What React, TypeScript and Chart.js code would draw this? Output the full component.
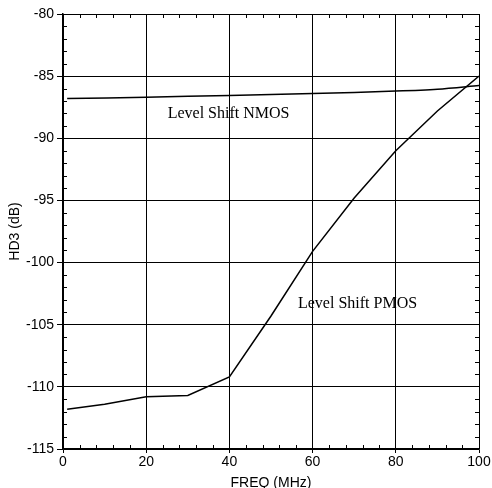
import React, { useEffect, useRef } from "react";
import { Chart, registerables } from "chart.js";

Chart.register(...registerables);

const nmosFreq = [1, 20, 40, 60, 80, 90, 100];
const nmosHd3 = [-86.8, -86.7, -86.55, -86.4, -86.2, -86.05, -85.75];

const pmosFreq = [1, 10, 20, 30, 40, 50, 60, 70, 80, 90, 100];
const pmosHd3 = [-111.8, -111.4, -110.8, -110.7, -109.2, -104.3, -99.1, -94.8, -91.0, -87.8, -85.0];

const xTicks = [0, 20, 40, 60, 80, 100];
const yTicks = [-115, -110, -105, -100, -95, -90, -85, -80];

const annotations = [
  { text: "Level Shift NMOS", x: 39.8, y: -88.05 },
  { text: "Level Shift PMOS", x: 70.8, y: -103.35 },
];

const minorTicksPlugin = {
  id: "minorTicks",
  afterDraw(chart: any) {
    const ctx = chart.ctx;
    const xs = chart.scales.x;
    const ys = chart.scales.y;
    const a = chart.chartArea;
    ctx.save();
    ctx.strokeStyle = "#000";
    ctx.lineWidth = 1;
    ctx.beginPath();
    for (let v = -115; v <= -80; v += 1) {
      if (v % 5 === 0) continue;
      const py = Math.round(ys.getPixelForValue(v)) + 0.5;
      ctx.moveTo(a.left, py);
      ctx.lineTo(a.left + 4, py);
      ctx.moveTo(a.right, py);
      ctx.lineTo(a.right - 4, py);
    }
    for (let v = 0; v <= 100; v += 4) {
      if (v % 20 === 0) continue;
      const px = Math.round(xs.getPixelForValue(v)) + 0.5;
      ctx.moveTo(px, a.bottom);
      ctx.lineTo(px, a.bottom - 4);
      ctx.moveTo(px, a.top);
      ctx.lineTo(px, a.top + 4);
    }
    ctx.stroke();
    ctx.fillStyle = "#000";
    ctx.font = "16px 'Liberation Serif', 'Times New Roman', serif";
    ctx.textAlign = "center";
    ctx.textBaseline = "middle";
    for (const an of annotations) {
      ctx.fillText(an.text, xs.getPixelForValue(an.x), ys.getPixelForValue(an.y));
    }
    ctx.restore();
  },
};

export default function App() {
  const ref = useRef<HTMLCanvasElement | null>(null);
  useEffect(() => {
    if (!ref.current) return;
    const font = { family: "'Liberation Sans', Arial, sans-serif", size: 14 };
    const chart = new Chart(ref.current, {
      type: "line",
      data: {
        datasets: [
          {
            label: "Level Shift NMOS",
            data: nmosFreq.map((f, i) => ({ x: f, y: nmosHd3[i] })),
            borderColor: "#000",
            borderWidth: 1.5,
            pointRadius: 0,
            tension: 0.3,
            fill: false,
          },
          {
            label: "Level Shift PMOS",
            data: pmosFreq.map((f, i) => ({ x: f, y: pmosHd3[i] })),
            borderColor: "#000",
            borderWidth: 1.5,
            pointRadius: 0,
            tension: 0,
            fill: false,
          },
        ],
      },
      options: {
        animation: false,
        responsive: false,
        maintainAspectRatio: false,
        layout: { padding: { left: 0, right: 13, top: 14, bottom: 0 } },
        plugins: { legend: { display: false }, tooltip: { enabled: false } },
        scales: {
          x: {
            type: "linear",
            min: 0,
            max: 100,
            afterBuildTicks: (s: any) => {
              s.ticks = xTicks.map((v) => ({ value: v }));
            },
            afterFit: (s: any) => {
              s.height = 39;
            },
            ticks: { color: "#000", font, padding: 1, maxRotation: 0 },
            grid: { color: "#000", lineWidth: 1, tickLength: 4, drawTicks: true },
            border: { color: "#000", width: 1.5 },
            title: {
              display: true,
              text: "FREQ (MHz)",
              color: "#000",
              font,
              padding: { top: 0, bottom: -4 },
            },
          },
          y: {
            type: "linear",
            min: -115,
            max: -80,
            afterBuildTicks: (s: any) => {
              s.ticks = yTicks.map((v) => ({ value: v }));
            },
            afterFit: (s: any) => {
              s.width = 63;
            },
            ticks: { color: "#000", font, padding: 3 },
            grid: { color: "#000", lineWidth: 1, tickLength: 6, drawTicks: true },
            border: { color: "#000", width: 1.5 },
            title: {
              display: true,
              text: "HD3 (dB)",
              color: "#000",
              font,
              padding: { top: 7, bottom: 0 },
            },
          },
        },
      },
      plugins: [minorTicksPlugin],
    } as any);
    return () => chart.destroy();
  }, []);
  return (
    <div style={{ position: "fixed", left: 0, top: 0, width: 492, height: 488, background: "#fff" }}>
      <canvas ref={ref} width={492} height={488} style={{ width: 492, height: 488, display: "block" }} />
    </div>
  );
}
